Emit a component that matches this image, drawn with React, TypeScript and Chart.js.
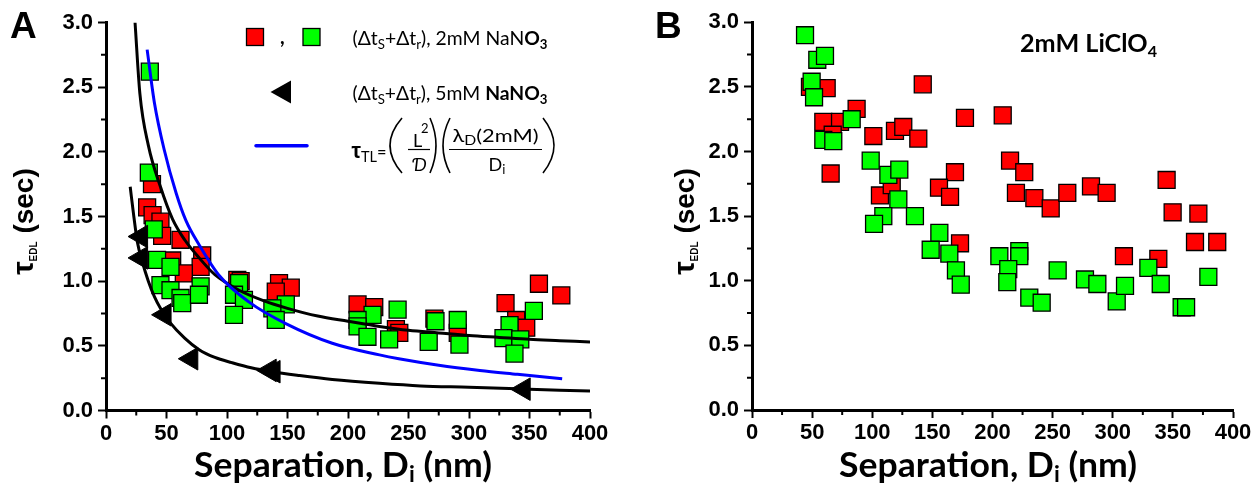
import React, { useEffect, useRef } from 'react';
import { Chart, registerables } from 'chart.js';

Chart.register(...registerables);

const H = 486;

// ---------- Panel A data (Separation nm, tau sec) ----------
const aRed2mM: [number, number][] = [
  [34, 1.57], [38.5, 1.51], [38, 1.75], [45, 1.46], [46.4, 1.35], [61.6, 1.32], [79.5, 1.2], [78.2, 1.11],
  [54.7, 1.16], [64.3, 1.06], [108.5, 1.01], [111.3, 1.0], [143, 0.985], [152.7, 0.95], [140.3, 0.92],
  [207.9, 0.82], [221.7, 0.8], [239.6, 0.63], [242.4, 0.6], [271.4, 0.71], [290.7, 0.6], [357.8, 0.98],
  [376.3, 0.89], [330.2, 0.83], [339, 0.7], [347.3, 0.64],
];
const aGreen2mM: [number, number][] = [
  [36.2, 2.62], [35.4, 1.84], [39.5, 1.4], [42.2, 1.165], [53.3, 1.11], [45, 0.97], [53.3, 0.93], [61.6, 0.87],
  [63, 0.83], [78.2, 0.96], [76.8, 0.895], [110, 0.985], [105.8, 0.895], [114, 0.855], [105.8, 0.74],
  [148.6, 0.82], [137.5, 0.79], [140.3, 0.7], [220.3, 0.74], [207.9, 0.7], [207.9, 0.65], [216.1, 0.57],
  [234, 0.55], [241, 0.78], [272.3, 0.69], [290.7, 0.7], [292.1, 0.51], [266.7, 0.53], [353.6, 0.77],
  [333.5, 0.66], [328.5, 0.56], [342.4, 0.55], [337.6, 0.44],
];
const aTri5mM: [number, number][] = [
  [29, 1.345], [29, 1.18], [48.4, 0.74], [70.5, 0.4], [135.3, 0.31], [138.5, 0.3], [345.2, 0.165],
];
const aFit2mM: [number, number][] = [
  [24, 3.0], [28, 2.45], [35, 2.05], [45, 1.73], [55, 1.48], [65, 1.32], [77, 1.18], [90, 1.05], [110, 0.93],
  [130, 0.85], [150, 0.79], [175, 0.73], [200, 0.69], [226, 0.65], [250, 0.62], [275, 0.6], [300, 0.58],
  [325, 0.565], [350, 0.55], [375, 0.54], [400, 0.53],
];
const aFit5mM: [number, number][] = [
  [20, 1.73], [23, 1.5], [26, 1.3], [30, 1.15], [35, 1.0], [40, 0.88], [45, 0.79], [53, 0.68], [65, 0.56],
  [77, 0.47], [90, 0.41], [104, 0.37], [120, 0.33], [137, 0.3], [160, 0.27], [187, 0.24], [226, 0.21],
  [260, 0.19], [300, 0.18], [350, 0.165], [400, 0.15],
];
const aTauTL: [number, number][] = [
  [34, 2.79], [40, 2.38], [48, 2.02], [58, 1.68], [66, 1.47], [77, 1.28], [93, 1.05], [118, 0.84], [149, 0.67],
  [187, 0.52], [226, 0.43], [242, 0.4], [275, 0.35], [309, 0.31], [340, 0.28], [377, 0.245],
];

// ---------- Panel B data (2mM LiClO4) ----------
const bRed: [number, number][] = [
  [48.2, 2.5], [62.1, 2.49], [87, 2.33], [59.3, 2.23], [73.2, 2.23], [67.1, 2.13], [65.4, 1.83], [100.9, 2.12],
  [118.9, 2.16], [125.8, 2.19], [138.3, 2.1], [142, 2.52], [177.1, 2.26], [168.8, 1.84], [155.5, 1.72],
  [164.7, 1.65], [106.4, 1.66], [116.2, 1.74], [173, 1.29], [208.5, 2.28], [214.6, 1.93], [226.4, 1.84],
  [219.5, 1.68], [234.8, 1.64], [248.4, 1.56], [262.2, 1.68], [281.9, 1.73], [294.9, 1.68], [344.8, 1.78],
  [349.8, 1.53], [371.2, 1.52], [368.4, 1.3], [386.9, 1.3], [309.3, 1.19], [337.9, 1.17],
];
const bGreen: [number, number][] = [
  [44.1, 2.9], [54.3, 2.71], [60.7, 2.74], [49.6, 2.54], [51.6, 2.42], [82.9, 2.25], [59.3, 2.09], [67.6, 2.08],
  [98.7, 1.93], [113.4, 1.82], [122.5, 1.86], [121.7, 1.63], [109.2, 1.5], [135.5, 1.5], [101.5, 1.44],
  [155.8, 1.37], [148.6, 1.24], [164.1, 1.21], [169.6, 1.08], [173.6, 0.97], [205.7, 1.19], [222.3, 1.23],
  [222.3, 1.19], [213.1, 1.09], [212.3, 0.99], [230.6, 0.87], [240.9, 0.83], [254.2, 1.08], [276.9, 1.01],
  [287.2, 0.975], [303.3, 0.84], [310.2, 0.96], [329.6, 1.1], [339.9, 0.975], [357.3, 0.795], [361, 0.795],
  [379.5, 1.03],
];

// ---------- Axes ----------
const xTickValues = [0, 50, 100, 150, 200, 250, 300, 350, 400];
const xMinorValues = [25, 75, 125, 175, 225, 275, 325, 375];
const yTickValues = [0, 0.5, 1.0, 1.5, 2.0, 2.5, 3.0];
const yMinorValues = [0.25, 0.75, 1.25, 1.75, 2.25, 2.75];

const RED = '#ff0000';
const GREEN = '#00ff00';
const BLUE = '#0000ff';
const ARIAL = '"Liberation Sans", Arial, sans-serif';
const CAL = 'Lato, "Open Sans", "DejaVu Sans", sans-serif';

type Part = { t: string; f: string; dy?: number };

function partsWidth(ctx: CanvasRenderingContext2D, parts: Part[]) {
  let w = 0;
  for (const p of parts) {
    ctx.font = p.f;
    w += ctx.measureText(p.t).width;
  }
  return w;
}

function drawParts(
  ctx: CanvasRenderingContext2D,
  parts: Part[],
  x: number,
  y: number,
  align: 'left' | 'center',
  width?: number
) {
  const w = partsWidth(ctx, parts);
  const sx = width ? width / w : 1;
  ctx.save();
  ctx.translate(x, y);
  ctx.scale(sx, 1);
  ctx.textAlign = 'left';
  ctx.textBaseline = 'alphabetic';
  ctx.fillStyle = '#000';
  let cx = align === 'center' ? -w / 2 : 0;
  for (const p of parts) {
    ctx.font = p.f;
    ctx.fillText(p.t, cx, p.dy || 0);
    cx += ctx.measureText(p.t).width;
  }
  ctx.restore();
}

function paren(ctx: CanvasRenderingContext2D, x0: number, x1: number, top: number, bottom: number, open: boolean) {
  ctx.beginPath();
  const mid = (top + bottom) / 2;
  if (open) {
    ctx.moveTo(x1, top);
    ctx.quadraticCurveTo(2 * x0 - x1, mid, x1, bottom);
  } else {
    ctx.moveTo(x0, top);
    ctx.quadraticCurveTo(2 * x1 - x0, mid, x0, bottom);
  }
  ctx.stroke();
}

function yTitle(ctx: CanvasRenderingContext2D, baseX: number, cy: number) {
  ctx.save();
  ctx.translate(baseX, cy);
  ctx.rotate(-Math.PI / 2);
  drawParts(
    ctx,
    [
      { t: 'τ', f: `bold 30px ${ARIAL}` },
      { t: 'EDL', f: `bold 10px ${ARIAL}`, dy: 4 },
      { t: ' (sec)', f: `bold 28px ${ARIAL}` },
    ],
    0,
    0,
    'center'
  );
  ctx.restore();
}

function xTitle(ctx: CanvasRenderingContext2D, cx: number, by: number) {
  drawParts(
    ctx,
    [
      { t: 'Separation, D', f: `bold 34px ${CAL}` },
      { t: 'i', f: `bold 22px ${CAL}`, dy: 5 },
      { t: ' (nm)', f: `bold 34px ${CAL}` },
    ],
    cx,
    by,
    'center',
    298
  );
}

function minorTicks(chart: any) {
  const ctx: CanvasRenderingContext2D = chart.ctx;
  const xs = chart.scales.x;
  const ys = chart.scales.y;
  const area = chart.chartArea;
  ctx.save();
  ctx.strokeStyle = '#000';
  ctx.lineWidth = 2;
  ctx.beginPath();
  for (const v of xMinorValues) {
    const px = xs.getPixelForValue(v);
    ctx.moveTo(px, area.bottom);
    ctx.lineTo(px, area.bottom + 5);
  }
  for (const v of yMinorValues) {
    const py = ys.getPixelForValue(v);
    ctx.moveTo(area.left, py);
    ctx.lineTo(area.left - 5, py);
  }
  ctx.stroke();
  ctx.restore();
}

function makeScales(yWidth: number, bottom: number) {
  const tickFont = { family: ARIAL, size: 22, weight: 'bold' as const };
  const grid = {
    display: true,
    drawOnChartArea: false,
    drawTicks: true,
    tickLength: 8,
    tickWidth: 2,
    tickColor: '#000',
  };
  const border = { display: true, color: '#000', width: 3 };
  return {
    x: {
      type: 'linear' as const,
      min: 0,
      max: 400,
      afterBuildTicks: (s: any) => {
        s.ticks = xTickValues.map((v) => ({ value: v }));
      },
      afterFit: (s: any) => {
        s.height = H - bottom;
      },
      ticks: {
        font: tickFont,
        color: '#000',
        padding: 2,
        maxRotation: 0,
        autoSkip: false,
        callback: (v: any) => String(v),
      },
      grid,
      border,
    },
    y: {
      type: 'linear' as const,
      min: 0,
      max: 3,
      afterBuildTicks: (s: any) => {
        s.ticks = yTickValues.map((v) => ({ value: v }));
      },
      afterFit: (s: any) => {
        s.width = yWidth;
      },
      ticks: {
        font: tickFont,
        color: '#000',
        padding: 5,
        autoSkip: false,
        callback: (v: any) => Number(v).toFixed(1),
      },
      grid,
      border,
    },
  };
}

const squareStyle = (color: string) => ({
  pointStyle: 'rect' as const,
  pointRadius: 12,
  pointHoverRadius: 12,
  backgroundColor: color,
  borderColor: '#000',
  pointBorderWidth: 1.3,
  borderWidth: 1.3,
  showLine: false,
});

const curveStyle = (color: string) => ({
  showLine: true,
  pointRadius: 0,
  borderColor: color,
  borderWidth: 3,
  backgroundColor: color,
  cubicInterpolationMode: 'monotone' as const,
  fill: false,
});

const toXY = (arr: [number, number][]) => arr.map(([x, y]) => ({ x, y }));

function PanelA() {
  const ref = useRef<HTMLCanvasElement>(null);
  useEffect(() => {
    const canvas = ref.current!;
    const decor = {
      id: 'decorA',
      afterDraw(chart: any) {
        minorTicks(chart);
        const ctx: CanvasRenderingContext2D = chart.ctx;
        ctx.save();
        // panel letter
        ctx.fillStyle = '#000';
        ctx.font = `bold 37px ${ARIAL}`;
        ctx.textAlign = 'left';
        ctx.textBaseline = 'alphabetic';
        ctx.fillText('A', 10, 38);
        yTitle(ctx, 32.5, 221.5);
        xTitle(ctx, 343, 477);

        // legend row 1
        ctx.lineWidth = 1.3;
        ctx.strokeStyle = '#000';
        ctx.fillStyle = RED;
        ctx.fillRect(246.5, 28.5, 17, 17);
        ctx.strokeRect(246.5, 28.5, 17, 17);
        ctx.fillStyle = GREEN;
        ctx.fillRect(303, 28.5, 17, 17);
        ctx.strokeRect(303, 28.5, 17, 17);
        ctx.fillStyle = '#000';
        ctx.font = `bold 20px ${CAL}`;
        ctx.fillText(',', 280, 44);
        const sub = `13px ${CAL}`;
        const reg = `19px ${CAL}`;
        const bold = `bold 19px ${CAL}`;
        const bsub = `bold 13px ${CAL}`;
        drawParts(
          ctx,
          [
            { t: '(Δt', f: reg },
            { t: 'S', f: sub, dy: 4 },
            { t: '+Δt', f: reg },
            { t: 'r', f: sub, dy: 4 },
            { t: '), 2mM NaN', f: reg },
            { t: 'O', f: bold },
            { t: '3', f: bsub, dy: 4 },
          ],
          352.5,
          44.5,
          'left',
          195
        );
        // legend row 2
        ctx.fillStyle = '#000';
        ctx.beginPath();
        ctx.moveTo(270.5, 92);
        ctx.lineTo(291, 80.5);
        ctx.lineTo(291, 103.5);
        ctx.closePath();
        ctx.fill();
        drawParts(
          ctx,
          [
            { t: '(Δt', f: reg },
            { t: 'S', f: sub, dy: 4 },
            { t: '+Δt', f: reg },
            { t: 'r', f: sub, dy: 4 },
            { t: '), 5mM ', f: reg },
            { t: 'NaNO', f: bold },
            { t: '3', f: bsub, dy: 4 },
          ],
          352.5,
          100,
          'left',
          195
        );
        // legend row 3
        ctx.strokeStyle = BLUE;
        ctx.lineWidth = 3.5;
        ctx.lineCap = 'round';
        ctx.beginPath();
        ctx.moveTo(256, 145.7);
        ctx.lineTo(307, 145.7);
        ctx.stroke();
        ctx.lineCap = 'butt';
        drawParts(
          ctx,
          [
            { t: 'τ', f: `bold 22px ${ARIAL}` },
            { t: 'TL', f: `15px ${CAL}`, dy: 4 },
            { t: '=', f: `17px ${CAL}` },
          ],
          351.5,
          158,
          'left',
          35
        );
        ctx.strokeStyle = '#000';
        ctx.lineWidth = 1.6;
        paren(ctx, 390, 402, 118, 173, true);
        drawParts(ctx, [{ t: 'L', f: `18px ${CAL}` }], 413, 146.5, 'left');
        drawParts(ctx, [{ t: '2', f: `13px ${CAL}` }], 421, 133, 'left');
        ctx.lineWidth = 1.2;
        ctx.beginPath();
        ctx.moveTo(408, 149.5);
        ctx.lineTo(430, 149.5);
        ctx.stroke();
        drawParts(ctx, [{ t: 'Ɗ', f: `italic 18px ${CAL}` }], 419, 171, 'center');
        ctx.lineWidth = 1.6;
        paren(ctx, 430, 436, 118, 173, false);
        paren(ctx, 443, 450, 118, 173, true);
        drawParts(
          ctx,
          [
            { t: 'λ', f: `18px ${CAL}` },
            { t: 'D', f: `13px ${CAL}`, dy: 3 },
            { t: '(2mM)', f: `18px ${CAL}` },
          ],
          495.5,
          141.5,
          'center',
          86
        );
        ctx.lineWidth = 1.2;
        ctx.beginPath();
        ctx.moveTo(449, 149.5);
        ctx.lineTo(542, 149.5);
        ctx.stroke();
        drawParts(
          ctx,
          [
            { t: 'D', f: `18px ${CAL}` },
            { t: 'i', f: `13px ${CAL}`, dy: 3 },
          ],
          497,
          170.5,
          'center'
        );
        ctx.lineWidth = 1.6;
        paren(ctx, 543, 554, 118, 173, false);
        ctx.restore();
      },
    };
    const chart = new Chart(canvas, {
      type: 'scatter',
      data: {
        datasets: [
          { label: 'fit 2mM', data: toXY(aFit2mM), ...curveStyle('#000'), order: 1 },
          { label: 'fit 5mM', data: toXY(aFit5mM), ...curveStyle('#000'), order: 1 },
          { label: 'tau TL', data: toXY(aTauTL), ...curveStyle(BLUE), order: 0 },
          {
            label: '5mM NaNO3',
            data: toXY(aTri5mM),
            pointStyle: 'triangle',
            rotation: -90,
            pointRadius: 13,
            pointHoverRadius: 13,
            backgroundColor: '#000',
            borderColor: '#000',
            borderWidth: 1,
            showLine: false,
            order: 2,
          },
          { label: 'green 2mM', data: toXY(aGreen2mM), ...squareStyle(GREEN), order: 3 },
          { label: 'red 2mM', data: toXY(aRed2mM), ...squareStyle(RED), order: 4 },
        ],
      },
      options: {
        responsive: false,
        maintainAspectRatio: false,
        animation: false,
        events: [],
        layout: { padding: { left: 0, right: 30, top: 22.5, bottom: 0 } },
        plugins: { legend: { display: false }, tooltip: { enabled: false }, title: { display: false } },
        scales: makeScales(106, 410.5) as any,
      },
      plugins: [decor],
    });
    return () => chart.destroy();
  }, []);
  return <canvas ref={ref} width={620} height={H} style={{ position: 'absolute', left: 0, top: 0, width: 620, height: H }} />;
}

function PanelB() {
  const ref = useRef<HTMLCanvasElement>(null);
  useEffect(() => {
    const canvas = ref.current!;
    const decor = {
      id: 'decorB',
      afterDraw(chart: any) {
        minorTicks(chart);
        const ctx: CanvasRenderingContext2D = chart.ctx;
        ctx.save();
        ctx.fillStyle = '#000';
        ctx.font = `bold 37px ${ARIAL}`;
        ctx.textAlign = 'left';
        ctx.textBaseline = 'alphabetic';
        ctx.fillText('B', 35, 38);
        yTitle(ctx, 74, 221.5);
        xTitle(ctx, 368, 477);
        drawParts(
          ctx,
          [
            { t: '2mM LiClO', f: `bold 25px ${CAL}` },
            { t: '4', f: `bold 16px ${CAL}`, dy: 5 },
          ],
          400,
          51.7,
          'left',
          137
        );
        ctx.restore();
      },
    };
    const chart = new Chart(canvas, {
      type: 'scatter',
      data: {
        datasets: [
          { label: 'green', data: toXY(bGreen), ...squareStyle(GREEN), order: 1 },
          { label: 'red', data: toXY(bRed), ...squareStyle(RED), order: 2 },
        ],
      },
      options: {
        responsive: false,
        maintainAspectRatio: false,
        animation: false,
        events: [],
        layout: { padding: { left: 0, right: 25, top: 22.3, bottom: 0 } },
        plugins: { legend: { display: false }, tooltip: { enabled: false }, title: { display: false } },
        scales: makeScales(132, 410) as any,
      },
      plugins: [decor],
    });
    return () => chart.destroy();
  }, []);
  return <canvas ref={ref} width={638} height={H} style={{ position: 'absolute', left: 620, top: 0, width: 638, height: H }} />;
}

export default function App() {
  return (
    <div style={{ position: 'fixed', left: 0, top: 0, width: 1258, height: H, background: '#fff', overflow: 'hidden' }}>
      <PanelA />
      <PanelB />
    </div>
  );
}
